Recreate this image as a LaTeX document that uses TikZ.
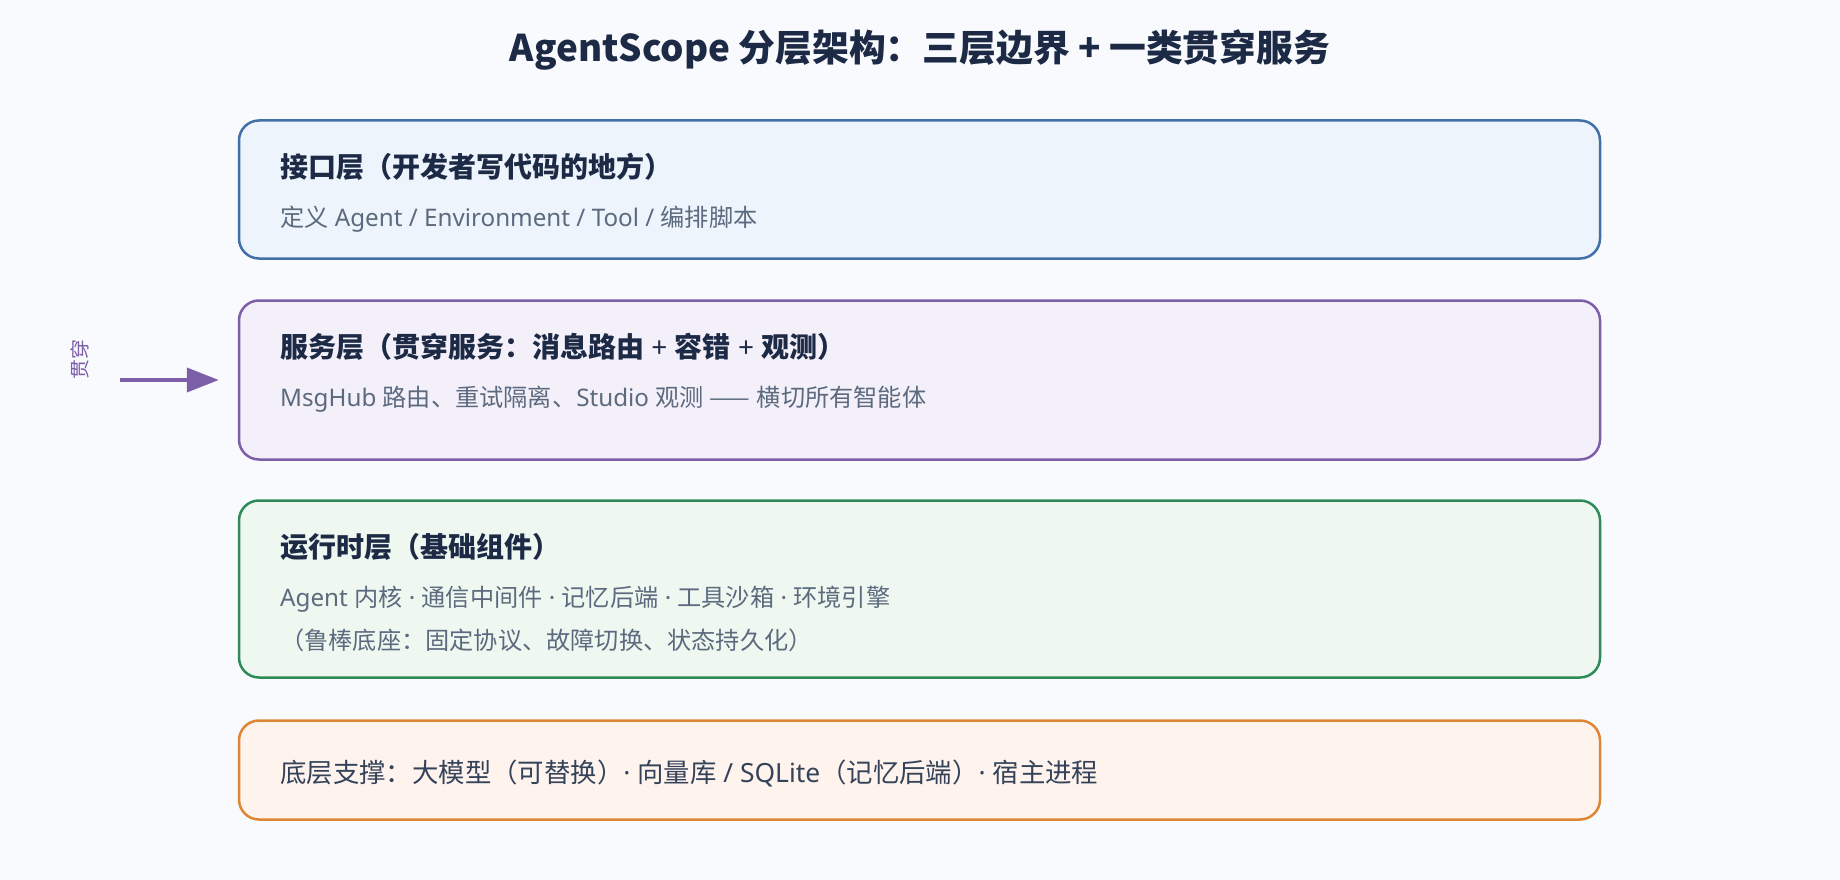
\documentclass[tikz,border=0pt]{standalone}
\usepackage{fontspec}
\setmainfont{Noto Sans CJK SC}
\newfontfamily\latf{Noto Sans}
\newcommand\La[1]{{\latf #1}}
\usetikzlibrary{arrows.meta}
\definecolor{bgc}{HTML}{F9FAFD}
\definecolor{titlec}{HTML}{1C2A46}
\definecolor{subc}{HTML}{5B6A7E}
\definecolor{basec}{HTML}{34435A}
\definecolor{blueB}{HTML}{4170A8}\definecolor{blueF}{HTML}{EEF4FB}
\definecolor{purpB}{HTML}{7C5EA9}\definecolor{purpF}{HTML}{F4F0FA}
\definecolor{greenB}{HTML}{2F8A5A}\definecolor{greenF}{HTML}{EFF8F0}
\definecolor{orangeB}{HTML}{DD8736}\definecolor{orangeF}{HTML}{FEF3ED}
\tikzset{
  layerbox/.style={rectangle, rounded corners=20pt, line width=2.5pt, minimum width=1361pt, inner sep=0pt},
  headtxt/.style={anchor=base west, inner sep=0pt, text=titlec, font=\fontsize{28}{31}\selectfont\bfseries},
  subtxt/.style={anchor=base west, inner sep=0pt, text=subc, font=\fontsize{24.2}{27}\selectfont},
  basetxt/.style={anchor=base west, inner sep=0pt, text=basec, font=\fontsize{26.4}{30}\selectfont},
}
\begin{document}
\begin{tikzpicture}[x=1pt,y=-1pt]
\fill[bgc] (0,0) rectangle (1840,880);
\useasboundingbox (0,0) rectangle (1840,880);
\node[anchor=base, inner sep=0pt, text=titlec, font=\fontsize{36.8}{40}\selectfont\bfseries] (title) at (920,62) {AgentScope 分层架构：三层边界 + 一类贯穿服务};

\node[layerbox, draw=blueB, fill=blueF, minimum height=138pt] (b1) at (919.5,189.5) {};
\node[headtxt] (h1) at (280,177.5) {接口层（开发者写代码的地方）};
\node[subtxt] (s1) at (280,226) {定义\La{ Agent / Environment / Tool / }编排脚本};

\node[layerbox, draw=purpB, fill=purpF, minimum height=159pt] (b2) at (919.5,380) {};
\node[headtxt] (h2) at (280,357.5) {服务层（贯穿服务：消息路由\La{ + }容错\La{ + }观测）};
\node[subtxt] (s2) at (280,406) {\La{MsgHub }路由、重试隔离、\La{Studio }观测\La{ }——\La{ }横切所有智能体};

\node[layerbox, draw=greenB, fill=greenF, minimum height=177pt] (b3) at (919.5,589) {};
\node[headtxt] (h3) at (280,557.5) {运行时层（基础组件）};
\node[subtxt] (s3) at (280,606) {\La{Agent }内核\La{ · }通信中间件\La{ · }记忆后端\La{ · }工具沙箱\La{ · }环境引擎};
\node[subtxt] (s3b) at (280,649) {（鲁棒底座：固定协议、故障切换、状态持久化）};

\node[layerbox, draw=orangeB, fill=orangeF, minimum height=99pt] (b4) at (919.5,770) {};
\node[basetxt] (s4) at (280,782) {底层支撑：大模型（可替换）\La{· }向量库\La{ / SQLite}（记忆后端）\La{· }宿主进程};

\node[rotate=90, inner sep=0pt, text=purpB, font=\fontsize{20}{22}\selectfont] (lbl) at (80,359) {贯穿};
\coordinate (arrS) at (120,380);
\draw[purpB, line width=4pt, -{Triangle[length=32pt,width=24pt]}] (arrS) -- ([xshift=-19pt]b2.west);
\end{tikzpicture}
\end{document}
